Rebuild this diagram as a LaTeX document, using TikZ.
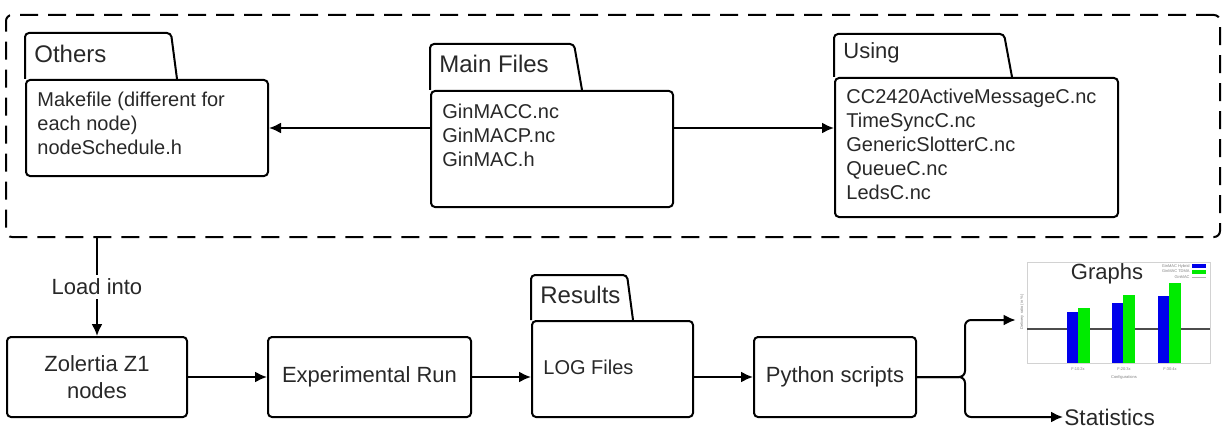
\documentclass[tikz,border=0pt]{standalone}
\usepackage{fontspec}
\setmainfont{Liberation Sans}
\usetikzlibrary{arrows.meta,positioning}
\definecolor{barblue}{RGB}{0,0,235}
\definecolor{bargreen}{RGB}{0,235,0}
\definecolor{ink}{RGB}{40,40,40}

\begin{document}
\begin{tikzpicture}[x=0.5pt, y=-0.5pt, every node/.style={text=ink},
	line/.style={line width=1pt},
	arr/.style={line, -{Latex[length=6pt,width=5.5pt]}},
	box/.style={draw, line width=1pt, rounded corners=2pt, minimum height=40pt, font=\fontsize{11}{13.5}\selectfont, align=center},
	body/.style={draw, line width=1pt, rounded corners=2pt},
	tab/.style={line, rounded corners=2pt},
	title/.style={font=\fontsize{12}{14}\selectfont, anchor=west, inner sep=0pt},
	files/.style={font=\fontsize{10}{12}\selectfont, align=left, anchor=north west, inner sep=0pt},
	lbl/.style={font=\fontsize{11}{13}\selectfont},
	tiny/.style={font=\fontsize{2}{2.4}\selectfont, text=gray, inner sep=0pt}]

	\useasboundingbox (0,0) rectangle (1230,433);

	% source files
	\node[draw, line width=1pt, dash pattern=on 9pt off 5pt, rounded corners=3pt, minimum width=607pt, minimum height=111pt] (sources) at (613,126) {};

	\node[body, minimum width=121pt, minimum height=48pt] (others) at (147,128) {};
	\draw[tab] (others.north west) -- ++(0,-46) -- ++(146,0) -- ++(6,46);
	\node[title] (othersT) at ([shift={(9,-25)}]others.north west) {Others};
	\node[files] (othersF) at ([shift={(12,13)}]others.north west) {Makefile (different for\\each node)\\nodeSchedule.h};

	\node[body, minimum width=121pt, minimum height=58pt] (main) at (552,149) {};
	\draw[tab] (main.north west) -- ++(0,-46) -- ++(144,0) -- ++(8,46);
	\node[title] (mainT) at ([shift={(9,-26)}]main.north west) {Main Files};
	\node[files] (mainF) at ([shift={(12,14)}]main.north west) {GinMACC.nc\\GinMACP.nc\\GinMAC.h};

	\node[body, minimum width=141.5pt, minimum height=69.5pt] (using) at (976.5,147.5) {};
	\draw[tab] (using.north west) -- ++(0,-43) -- ++(170,0) -- ++(8,43);
	\node[title, font=\fontsize{11}{13}\selectfont] (usingT) at ([shift={(9,-24)}]using.north west) {Using};
	\node[files] (usingF) at ([shift={(12,12)}]using.north west) {CC2420ActiveMessageC.nc\\TimeSyncC.nc\\GenericSlotterC.nc\\QueueC.nc\\LedsC.nc};

	\draw[arr] (main.west |- others.east) -- (others.east);
	\draw[arr] (main.east |- others.east) -- (using.west |- others.east);

	% experiment chain
	\node[box, minimum width=90pt] (zolertia) at (97,377) {Zolertia Z1\\nodes};
	\node[box, minimum width=101.5pt] (exprun) at (369.5,377) {Experimental Run};

	\node[body, minimum width=80.5pt, minimum height=48pt] (results) at (612.5,369) {};
	\draw[tab] (results.north west) -- ++(0,-45) -- ++(96,0) -- ++(6,45);
	\node[title] (resultsT) at ([shift={(9,-25)}]results.north west) {Results};
	\node[files, anchor=west] (resultsF) at ([shift={(12,-2)}]results.west) {LOG Files};

	\node[box, minimum width=81pt] (python) at (835,377) {Python scripts};

	\node[minimum width=100pt, minimum height=62pt, inner sep=0pt] (graphs) at (1116,320) {};
	\node[lbl, anchor=west, inner sep=0.5pt, font=\fontsize{11.3}{13}\selectfont] (stats) at (1063,417) {Statistics};
	\coordinate (split) at (965,377);

	\draw[arr] (sources.south -| zolertia.north) -- node[lbl, fill=white, inner sep=2pt]{Load into} (zolertia.north);
	\draw[arr] (zolertia) -- (exprun);
	\draw[arr] (exprun.east) -- (exprun.east -| results.west);
	\draw[arr] (python.west -| results.east) -- (python.west);
	\draw[arr, rounded corners=3pt] (python.east) -- (split) |- (graphs.west);
	\draw[arr, rounded corners=3pt] (python.east) -- (split) |- (stats.west);

	% the chart
	\draw[gray!35, line width=0.4pt] (1027,262) rectangle (1210,363);
	\draw[gray!60!black, line width=0.6pt] (1027,329) -- (1210,329);
	\foreach \x/\b/\g in {1067/312/308, 1112/303/295, 1158/296/283} {
		\fill[barblue] (\x,363) rectangle (\x+11,\b);
		\fill[bargreen] (\x+11,363) rectangle (\x+23,\g);
	}
	\node[lbl] (graphsT) at (1107,274) {Graphs};
	\node[tiny, anchor=east] at (1190,266) {GinMAC Hybrid};
	\node[tiny, anchor=east] at (1190,271) {GinMAC TDMA};
	\node[tiny, anchor=east] at (1190,277) {GinMAC};
	\fill[barblue] (1192,264) rectangle (1206,268);
	\fill[bargreen] (1192,270) rectangle (1206,274);
	\draw[gray!60, line width=0.3pt] (1192,277) -- (1206,277);
	\node[tiny] at (1078,369) {F:10:2x};
	\node[tiny] at (1124,369) {F:20:3x};
	\node[tiny] at (1170,369) {F:30:4x};
	\node[tiny] at (1124,377) {Configurations};
	\node[tiny, rotate=90] at (1022,312) {Delivery ratio (in \%)};
\end{tikzpicture}
\end{document}
